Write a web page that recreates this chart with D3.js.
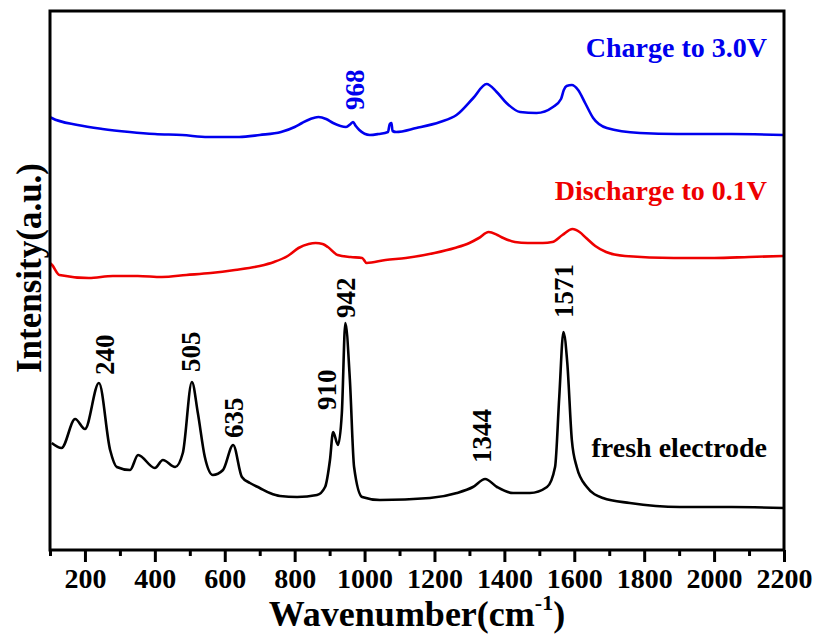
<!DOCTYPE html>
<html>
<head>
<meta charset="utf-8">
<style>
  body { margin: 0; background: #fff; }
  text { font-family: "Liberation Serif", "Times New Roman", serif; font-weight: bold; }
</style>
</head>
<body>
<div id="chart"></div>
<script src="https://d3js.org/d3.v7.min.js"></script>
<script>
// wavenumber (cm-1) and intensity (a.u., offset per curve)
const freshWn  = [105,133,172,200,240,272,291,329,352,400,423,458,480,506,523,543,566,595,624,649,672,700,729,758,807,864,887,901,910,924,935,945,958,970,993,1044,1187,1264,1310,1345,1379,1425,1473,1522,1545,1557,1569,1580,1593,1607,1636,1682,1759,1902,2050,2200];
const freshInt = [107,102,131,121,167,100,83,80,95,82,90,83,97,168,137,93,75,80,105,73,67,62,57,54,53,55,63,90,118,105,137,227,170,83,53,50,52,57,63,71,63,57,57,63,83,153,218,187,110,83,63,52,47,43,43,42];

const dischWn  = [100,106,127,211,280,351,420,490,560,629,700,741,780,811,840,860,880,895,923,960,993,1006,1060,1118,1200,1258,1300,1327,1355,1380,1397,1430,1467,1510,1537,1566,1595,1615,1634,1660,1691,1745,1885,2000,2100,2200];
const dischInt = [287,285,275,272,274,274,273,275,277,280,284,288,294,302,306,307,306,303,295,293,292,287,290,292,297,302,307,312,318,315,312,308,307,307,308,315,321,318,312,304,298,294,292,292,293,294];

const chargeWn  = [100,105,179,250,328,400,478,552,641,700,761,800,821,845,868,890,910,947,960,967,975,985,1015,1040,1067,1072,1077,1080,1090,1148,1216,1263,1311,1349,1378,1406,1445,1492,1539,1562,1570,1578,1593,1611,1631,1654,1693,1788,1894,2050,2200];
const chargeInt = [433,432,425,421,418,416,415,413,413,415,418,423,427,431,433,431,427,423,426,428,424,420,415,416,418,426,427,419,418,422,428,435,452,466,458,447,438,437,443,451,460,464,465,460,447,432,422,417,416,416,415];

const seriesNames = ["fresh electrode", "Discharge to 0.1V", "Charge to 3.0V"];
const seriesColors = ["#000000", "#ee0000", "#0000ee"];

// peak labels: text, wavenumber position, intensity at the bottom of the label
const peakText = ["240", "505", "635", "910", "942", "1344", "1571", "968"];
const peakWn   = [257, 503, 624, 890, 947, 1336, 1570, 970];
const peakBase = [175, 178, 112, 140, 232, 87, 232, 440];
const peakColor = ["#000", "#000", "#000", "#000", "#000", "#000", "#000", "#0000ee"];

const xTicks = d3.range(200, 2201, 200);
const xMinor = d3.range(100, 2201, 200);

const width = 817, height = 635;
const margin = {top: 11, right: 33, bottom: 85, left: 50};

const svg = d3.select("#chart").append("svg")
    .attr("width", width)
    .attr("height", height);

const x = d3.scaleLinear()
    .domain([100, 2200])
    .range([margin.left, width - margin.right]);

const y = d3.scaleLinear()
    .domain([0, 539])
    .range([height - margin.bottom, margin.top]);

const line = d3.line()
    .x(d => x(d[0]))
    .y(d => y(d[1]))
    .curve(d3.curveMonotoneX);

const series = [
  d3.zip(freshWn, freshInt),
  d3.zip(dischWn, dischInt),
  d3.zip(chargeWn, chargeInt)
];

series.forEach((s, i) => {
  svg.append("path")
      .datum(s)
      .attr("fill", "none")
      .attr("stroke", seriesColors[i])
      .attr("stroke-width", 2.6)
      .attr("stroke-linejoin", "round")
      .attr("d", line);
});

// frame
svg.append("rect")
    .attr("x", margin.left)
    .attr("y", margin.top)
    .attr("width", width - margin.left - margin.right)
    .attr("height", height - margin.top - margin.bottom)
    .attr("fill", "none")
    .attr("stroke", "#000")
    .attr("stroke-width", 3);

// bottom axis
const gx = svg.append("g")
    .attr("transform", `translate(0,${height - margin.bottom})`)
    .call(d3.axisBottom(x).tickValues(xTicks).tickSize(12).tickPadding(6).tickFormat(d3.format("d")));
gx.select(".domain").remove();
gx.selectAll(".tick line").attr("stroke-width", 3);
gx.selectAll(".tick text")
    .attr("font-size", 28)
    .attr("font-family", "Liberation Serif, serif")
    .attr("font-weight", "bold")
    .attr("fill", "#000");

svg.append("g")
    .attr("transform", `translate(0,${height - margin.bottom})`)
    .call(d3.axisBottom(x).tickValues(xMinor).tickSize(6).tickFormat(""))
    .call(g => g.select(".domain").remove())
    .call(g => g.selectAll(".tick line").attr("stroke-width", 3));

// axis titles
const xt = svg.append("text")
    .attr("x", 417)
    .attr("y", 626)
    .attr("text-anchor", "middle")
    .attr("font-size", 36);
xt.append("tspan").text("Wavenumber(cm");
xt.append("tspan").attr("font-size", 22).attr("dy", -16).text("-1");
xt.append("tspan").attr("dy", 16).text(")");

svg.append("text")
    .attr("transform", "translate(41,268) rotate(-90)")
    .attr("text-anchor", "middle")
    .attr("font-size", 35)
    .text("Intensity(a.u.)");

// series labels
const seriesLabelY = [457, 200, 57];
seriesNames.forEach((n, i) => {
  svg.append("text")
      .attr("x", 767)
      .attr("y", seriesLabelY[i])
      .attr("text-anchor", "end")
      .attr("font-size", 28)
      .attr("fill", seriesColors[i])
      .text(n);
});

// peak labels
peakText.forEach((t, i) => {
  svg.append("text")
      .attr("transform", `translate(${x(peakWn[i])},${y(peakBase[i])}) rotate(-90)`)
      .attr("dy", "0.35em")
      .attr("font-size", 27)
      .attr("fill", peakColor[i])
      .text(t);
});
</script>
</body>
</html>
